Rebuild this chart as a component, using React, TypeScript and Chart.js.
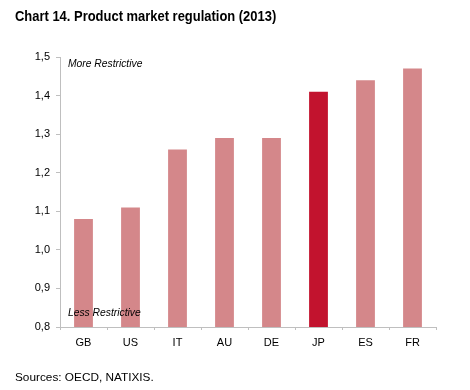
import React, { useEffect, useRef } from "react";
import { Chart, registerables } from "chart.js";

Chart.register(...registerables);

const categories = ["GB", "US", "IT", "AU", "DE", "JP", "ES", "FR"];
const values = [1.08, 1.11, 1.26, 1.29, 1.29, 1.41, 1.44, 1.47];
const highlighted = ["JP"];
const yTicks = [0.8, 0.9, 1.0, 1.1, 1.2, 1.3, 1.4, 1.5];
const titleText = "Chart 14. Product market regulation (2013)";
const sourceText = "Sources: OECD, NATIXIS.";
const topNote = "More Restrictive";
const bottomNote = "Less Restrictive";

const FONT = "'Liberation Sans', Arial, sans-serif";

const textPlugin = {
  id: "texts",
  afterDraw(chart: any) {
    const ctx = chart.ctx;
    const area = chart.chartArea;
    const y = chart.scales.y;
    ctx.save();
    ctx.fillStyle = "#000";
    ctx.textBaseline = "middle";
    ctx.textAlign = "left";
    ctx.save();
    ctx.translate(15, 17);
    ctx.scale(0.925, 1);
    ctx.font = `bold 14px ${FONT}`;
    ctx.fillText(titleText, 0, 0);
    ctx.restore();
    ctx.font = `italic 10.3px ${FONT}`;
    ctx.fillText(topNote, area.left + 8, y.getPixelForValue(1.5) + 7);
    ctx.fillText(bottomNote, area.left + 8, y.getPixelForValue(0.8) - 14);
    ctx.font = `11.8px ${FONT}`;
    ctx.fillText(sourceText, 15, 378);
    ctx.restore();
  },
};

export default function App() {
  const ref = useRef<HTMLCanvasElement | null>(null);
  useEffect(() => {
    if (!ref.current) return;
    const chart = new Chart(ref.current, {
      type: "bar",
      data: {
        labels: categories,
        datasets: [
          {
            data: values,
            backgroundColor: categories.map((c) =>
              highlighted.includes(c) ? "#C2132E" : "#D4878A"
            ),
            categoryPercentage: 1,
            barPercentage: 0.4,
          },
        ],
      },
      options: {
        animation: false,
        responsive: false,
        devicePixelRatio: 1,
        layout: { padding: { left: 0, right: 34, top: 57, bottom: 0 } },
        plugins: {
          legend: { display: false },
          tooltip: { enabled: false },
        },
        scales: {
          x: {
            offset: true,
            grid: {
              display: true,
              drawOnChartArea: false,
              drawTicks: true,
              tickLength: 3,
              offset: true,
              color: "#BFBFBF",
            },
            border: { color: "#BFBFBF" },
            ticks: {
              color: "#000",
              font: { family: FONT, size: 11 },
              padding: 6,
            },
            afterFit: (s: any) => {
              s.height = 63;
            },
          },
          y: {
            min: 0.8,
            max: 1.5,
            afterBuildTicks: (s: any) => {
              s.ticks = yTicks.map((v) => ({ value: v }));
            },
            grid: {
              display: true,
              drawOnChartArea: false,
              drawTicks: true,
              tickLength: 4,
              color: "#BFBFBF",
            },
            border: { color: "#BFBFBF" },
            ticks: {
              color: "#000",
              font: { family: FONT, size: 11 },
              padding: 6,
              callback: (v: any) => Number(v).toFixed(1).replace(".", ","),
            },
            afterFit: (s: any) => {
              s.width = 60;
            },
          },
        },
      },
      plugins: [textPlugin],
    });
    return () => chart.destroy();
  }, []);
  return (
    <div style={{ position: "absolute", left: 0, top: 0, width: 470, height: 390, background: "#fff" }}>
      <canvas ref={ref} width={470} height={390} style={{ display: "block" }} />
    </div>
  );
}
